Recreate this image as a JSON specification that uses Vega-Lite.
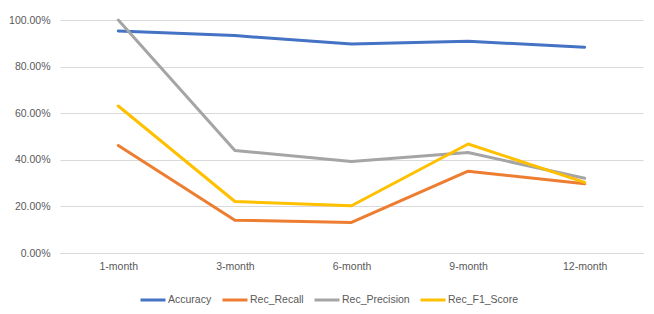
{
  "$schema": "https://vega.github.io/schema/vega-lite/v6.json",
  "width": 583,
  "height": 233,
  "autosize": {"type": "none"},
  "padding": {"left": 60, "top": 20, "right": 11, "bottom": 61},
  "background": "#ffffff",
  "data": {
    "values": [
      {"month": "1-month", "metric": "Accuracy", "value": 0.953},
      {"month": "3-month", "metric": "Accuracy", "value": 0.933},
      {"month": "6-month", "metric": "Accuracy", "value": 0.897},
      {"month": "9-month", "metric": "Accuracy", "value": 0.909},
      {"month": "12-month", "metric": "Accuracy", "value": 0.883},
      {"month": "1-month", "metric": "Rec_Recall", "value": 0.461},
      {"month": "3-month", "metric": "Rec_Recall", "value": 0.141},
      {"month": "6-month", "metric": "Rec_Recall", "value": 0.131},
      {"month": "9-month", "metric": "Rec_Recall", "value": 0.351},
      {"month": "12-month", "metric": "Rec_Recall", "value": 0.297},
      {"month": "1-month", "metric": "Rec_Precision", "value": 1.0},
      {"month": "3-month", "metric": "Rec_Precision", "value": 0.44},
      {"month": "6-month", "metric": "Rec_Precision", "value": 0.393},
      {"month": "9-month", "metric": "Rec_Precision", "value": 0.431},
      {"month": "12-month", "metric": "Rec_Precision", "value": 0.321},
      {"month": "1-month", "metric": "Rec_F1_Score", "value": 0.631},
      {"month": "3-month", "metric": "Rec_F1_Score", "value": 0.221},
      {"month": "6-month", "metric": "Rec_F1_Score", "value": 0.203},
      {"month": "9-month", "metric": "Rec_F1_Score", "value": 0.468},
      {"month": "12-month", "metric": "Rec_F1_Score", "value": 0.303}
    ]
  },
  "mark": {"type": "line", "strokeWidth": 3, "strokeCap": "round", "strokeJoin": "round"},
  "encoding": {
    "x": {
      "field": "month",
      "type": "nominal",
      "sort": ["1-month", "3-month", "6-month", "9-month", "12-month"],
      "scale": {"type": "point", "padding": 0.5},
      "axis": {
        "title": null,
        "labelAngle": 0,
        "ticks": false,
        "domain": true,
        "domainColor": "#D9D9D9",
        "labelPadding": 8,
        "labelColor": "#595959",
        "labelFont": "Liberation Sans",
        "labelFontSize": 10.5
      }
    },
    "y": {
      "field": "value",
      "type": "quantitative",
      "scale": {"domain": [0, 1], "nice": false},
      "axis": {
        "title": null,
        "format": ".2%",
        "values": [0, 0.2, 0.4, 0.6, 0.8, 1.0],
        "ticks": false,
        "domain": false,
        "grid": true,
        "gridColor": "#D9D9D9",
        "labelPadding": 10,
        "labelColor": "#595959",
        "labelFont": "Liberation Sans",
        "labelFontSize": 10.5
      }
    },
    "color": {
      "field": "metric",
      "type": "nominal",
      "sort": ["Accuracy", "Rec_Recall", "Rec_Precision", "Rec_F1_Score"],
      "scale": {
        "domain": ["Accuracy", "Rec_Recall", "Rec_Precision", "Rec_F1_Score"],
        "range": ["#4472C4", "#ED7D31", "#A5A5A5", "#FFC000"]
      },
      "legend": {
        "title": null,
        "orient": "none",
        "direction": "horizontal",
        "legendX": 79,
        "legendY": 266,
        "symbolType": "stroke",
        "symbolSize": 625,
        "symbolStrokeWidth": 3,
        "labelColor": "#595959",
        "labelFont": "Liberation Sans",
        "labelFontSize": 10.5,
        "labelOffset": 1,
        "columnPadding": 4
      }
    }
  },
  "config": {"view": {"stroke": null}}
}
